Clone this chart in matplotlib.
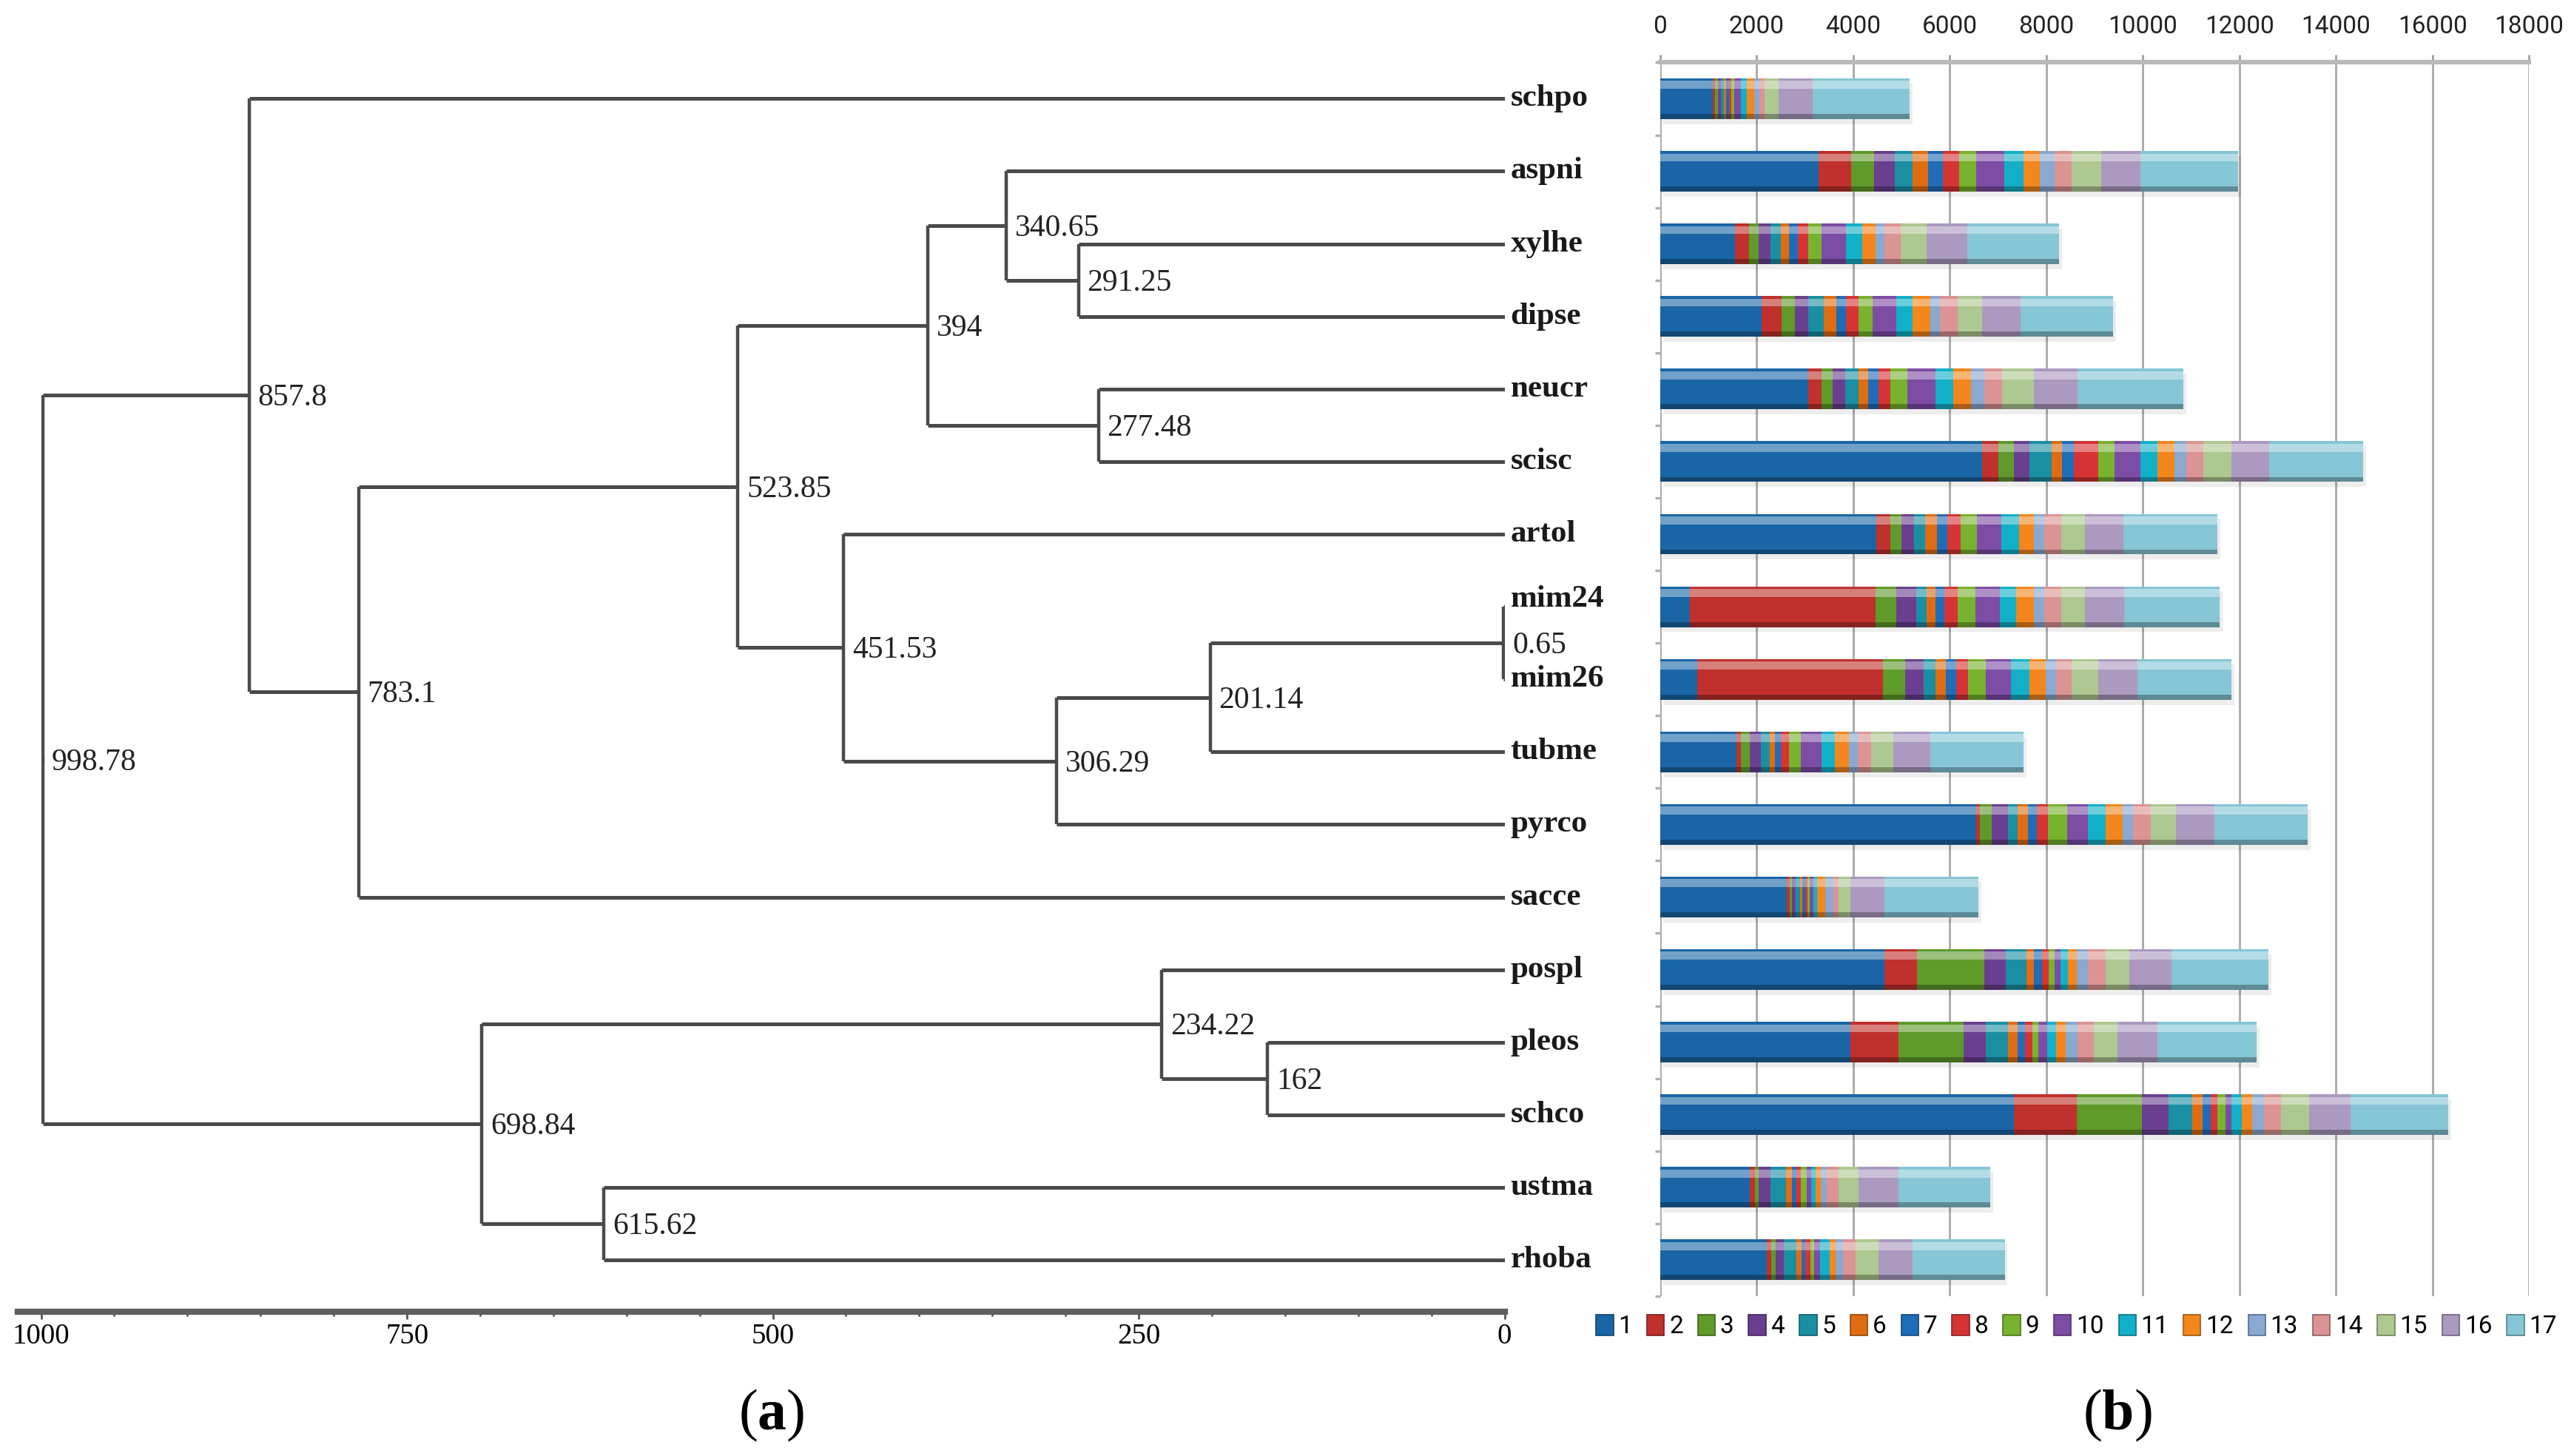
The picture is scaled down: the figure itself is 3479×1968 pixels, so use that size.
import matplotlib
matplotlib.use('Agg')
import matplotlib.pyplot as plt
import matplotlib.colors as mcolors
from matplotlib.patches import Patch
import numpy as np

plt.rcParams['mathtext.fontset'] = 'custom'
plt.rcParams['mathtext.rm'] = 'Liberation Serif'
plt.rcParams['mathtext.bf'] = 'Liberation Serif:bold'

# species, top to bottom
species = ['schpo', 'aspni', 'xylhe', 'dipse', 'neucr', 'scisc', 'artol', 'mim24', 'mim26',
           'tubme', 'pyrco', 'sacce', 'pospl', 'pleos', 'schco', 'ustma', 'rhoba']

# tree merges: (node, child a, child b, height)
merges = [
    ('L', 'mim24', 'mim26', 0.65),
    ('O', 'pleos', 'schco', 162),
    ('K', 'L', 'tubme', 201.14),
    ('M', 'pospl', 'O', 234.22),
    ('H', 'neucr', 'scisc', 277.48),
    ('I', 'xylhe', 'dipse', 291.25),
    ('J', 'K', 'pyrco', 306.29),
    ('G', 'aspni', 'I', 340.65),
    ('E', 'G', 'H', 394),
    ('F', 'artol', 'J', 451.53),
    ('D', 'E', 'F', 523.85),
    ('N', 'ustma', 'rhoba', 615.62),
    ('B', 'M', 'N', 698.84),
    ('C', 'D', 'sacce', 783.1),
    ('A', 'schpo', 'C', 857.8),
    ('R', 'A', 'B', 998.78),
]

# domain class counts (17 classes) per species
schpo = [1090, 50, 60, 60, 60, 50, 60, 50, 60, 130, 130, 150, 100, 120, 285, 706, 2007]
aspni = [3283, 681, 471, 421, 372, 322, 310, 335, 347, 582, 409, 335, 310, 347, 620, 805, 2032]
xylhe = [1549, 285, 211, 248, 211, 161, 186, 223, 273, 496, 347, 273, 186, 335, 533, 843, 1908]
dipse = [2106, 409, 273, 285, 310, 273, 186, 273, 285, 496, 335, 372, 186, 372, 508, 793, 1920]
neucr = [3060, 285, 223, 273, 273, 198, 211, 248, 347, 582, 372, 372, 273, 372, 657, 904, 2193]
scisc = [6666, 335, 335, 322, 458, 211, 248, 508, 335, 533, 359, 347, 248, 347, 582, 781, 1945]
artol = [4485, 285, 223, 273, 223, 248, 211, 273, 347, 496, 372, 310, 211, 347, 496, 805, 1945]
mim24 = [620, 3841, 434, 409, 211, 186, 186, 273, 372, 508, 335, 372, 211, 347, 496, 805, 1982]
mim26 = [768, 3841, 471, 372, 248, 223, 211, 248, 372, 520, 372, 347, 211, 322, 545, 818, 1945]
tubme = [1586, 87, 186, 223, 186, 112, 124, 161, 248, 434, 273, 285, 186, 273, 471, 768, 1920]
pyrco = [6542, 87, 248, 335, 198, 211, 186, 223, 396, 434, 372, 347, 211, 372, 520, 805, 1933]
sacce = [2627, 50, 50, 74, 99, 50, 50, 50, 50, 74, 74, 173, 173, 99, 248, 700, 1950]
pospl = [4646, 681, 1388, 446, 434, 149, 161, 149, 124, 124, 149, 186, 223, 372, 496, 867, 2007]
pleos = [3940, 991, 1363, 458, 458, 198, 149, 149, 124, 186, 186, 198, 248, 335, 496, 830, 2044]
schco = [7335, 1301, 1338, 558, 496, 211, 161, 149, 161, 124, 223, 211, 248, 347, 582, 867, 2020]
ustma = [1859, 99, 87, 248, 310, 124, 99, 87, 124, 99, 87, 99, 124, 248, 421, 818, 1908]
rhoba = [2208, 100, 80, 170, 270, 100, 80, 100, 80, 120, 200, 130, 150, 260, 480, 700, 1910]

classes = [str(i) for i in range(1, 18)]
colors = ['#1a65a6', '#c0302c', '#5f9a2a', '#6a3f8f', '#1a8fa3', '#e06c12', '#1f6cb8',
          '#d63434', '#78b22e', '#7d4ca5', '#12b0c8', '#f3861c', '#8aa8d0', '#dc9393',
          '#aec891', '#ab99c0', '#86c6d6']

xticks_b = [0, 2000, 4000, 6000, 8000, 10000, 12000, 14000, 16000, 18000]
xticks_a = [1000, 750, 500, 250, 0]

counts = np.array([schpo, aspni, xylhe, dipse, neucr, scisc, artol, mim24, mim26,
                   tubme, pyrco, sacce, pospl, pleos, schco, ustma, rhoba], dtype=float)

fig = plt.figure(figsize=(17.4, 9.84), dpi=200)

# ---------------- (a) dendrogram ----------------
ax1 = fig.add_axes([0.01597, 0.0992, 0.5684, 0.8829])
ax1.set_xlim(1000, 0)
ax1.set_ylim(16.71, -1)

line_c = '#4a4a4a'
pos = {name: (0.0, i) for i, name in enumerate(species)}
for node, a, b, h in merges:
    xa, ya = pos[a]
    xb, yb = pos[b]
    ax1.plot([h, h], [ya, yb], color=line_c, lw=1.6, solid_capstyle='butt')
    if xa != h:
        ax1.plot([xa, h], [ya, ya], color=line_c, lw=1.8, solid_capstyle='butt')
    if xb != h:
        ax1.plot([xb, h], [yb, yb], color=line_c, lw=1.8, solid_capstyle='butt')
    ym = (ya + yb) / 2
    pos[node] = (h, ym)
    ax1.text(h - 6, ym + 0.04, '{:g}'.format(h), ha='left', va='center',
             family='Liberation Serif', fontsize=15, color='#222222')

# root stub
rx, ry = pos['R']
ax1.plot([rx + 9, rx], [ry, ry], color=line_c, lw=1.6)

for i, name in enumerate(species):
    dy = -0.1 if name == 'mim24' else 0
    ax1.text(-4, i + dy, name, ha='left', va='center', family='Liberation Serif',
             fontweight='bold', fontsize=15.5, color='#1a1a1a')

for s in ['top', 'left', 'right']:
    ax1.spines[s].set_visible(False)
ax1.spines['bottom'].set_linewidth(3)
ax1.spines['bottom'].set_color('#5e5e5e')
ax1.spines['bottom'].set_bounds(1016, 0)
ax1.set_yticks([])
ax1.set_xticks(xticks_a)
ax1.set_xticks(np.arange(0, 1001, 50), minor=True)
ax1.set_xticklabels([str(t) for t in xticks_a], family='Liberation Serif', fontsize=14)
ax1.tick_params(axis='x', which='major', length=3.6, width=1, color='#555555', pad=2)
ax1.tick_params(axis='x', which='minor', length=2.2, width=1, color='#555555')

# ---------------- (b) stacked bars ----------------
ax2 = fig.add_axes([0.6448, 0.1098, 0.3374, 0.8473])
y = np.arange(len(species))
bh = 0.56

def shade(c, f):
    r = np.array(mcolors.to_rgb(c))
    if f > 0:
        return tuple(r + (1 - r) * f)
    return tuple(r * (1 + f))

totals = counts.sum(axis=1)
ax2.barh(y + 0.07, totals, left=60, height=bh, color='#000000', alpha=0.07, zorder=2, linewidth=0)

left = np.zeros(len(species))
for j in range(len(classes)):
    vals = counts[:, j]
    ax2.barh(y, vals, left=left, height=bh, color=colors[j], label=classes[j],
             zorder=3, linewidth=0)
    ax2.barh(y - 0.19, vals, left=left, height=0.11, color=shade(colors[j], 0.38),
             zorder=4, linewidth=0)
    ax2.barh(y + bh / 2 - 0.035, vals, left=left, height=0.07, color=shade(colors[j], -0.3),
             zorder=4, linewidth=0)
    left += vals

ax2.set_xlim(0, 18000)
ax2.set_ylim(16.5, -0.5)
ax2.xaxis.tick_top()
ax2.set_xticks(xticks_b)
ax2.set_xticklabels([str(t) for t in xticks_b], family='Roboto', fontsize=12, color='#222222')
ax2.tick_params(axis='x', which='major', length=3.6, width=1, color='#a0a0a0', pad=8)
ax2.grid(axis='x', color='#a8a8a8', lw=1.0, zorder=0)
ax2.set_axisbelow(True)
ax2.set_yticks([])
ax2.set_yticks(np.arange(-0.5, 17, 1), minor=True)
ax2.tick_params(axis='y', which='minor', length=2.5, width=1.2, color='#b0b0b0')
for s in ['bottom', 'right', 'left']:
    ax2.spines[s].set_visible(False)
ax2.spines['top'].set_linewidth(2.2)
ax2.spines['top'].set_color('#b8b8b8')

handles = [Patch(facecolor=colors[j], edgecolor=shade(colors[j], -0.35), lw=0.6)
           for j in range(len(classes))]
fig.legend(handles, classes, ncol=17, loc='center', bbox_to_anchor=(0.8065, 0.0889),
           frameon=False, handlelength=0.7, handleheight=0.9, handletextpad=0.2,
           columnspacing=0.6, prop={'family': 'Roboto', 'size': 12})

fig.text(0.2995, 0.028, r'($\mathbf{a}$)', ha='center', va='center',
         family='Liberation Serif', fontsize=28)
fig.text(0.8224, 0.028, r'($\mathbf{b}$)', ha='center', va='center',
         family='Liberation Serif', fontsize=28)

fig.savefig('out.png', dpi=200)
